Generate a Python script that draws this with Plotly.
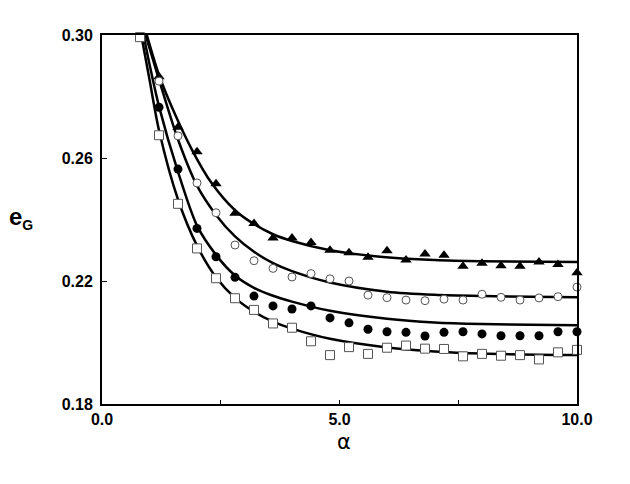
#!/usr/bin/python3
# -*- coding: utf-8 -*-

import plotly.graph_objects as go

# measured points (alpha, e_G)
alpha = [1.2, 1.6, 2.0, 2.4, 2.8, 3.2, 3.6, 4.0, 4.4, 4.8, 5.2, 5.6,
         6.0, 6.4, 6.8, 7.2, 7.6, 8.0, 8.4, 8.8, 9.2, 9.6, 10.0]
alpha_sq = [0.8] + alpha

tri = [0.2864, 0.2700, 0.2620, 0.2516, 0.2420, 0.2387, 0.2340, 0.2340,
       0.2325, 0.2300, 0.2292, 0.2277, 0.2298, 0.2268, 0.2288, 0.2284,
       0.2248, 0.2258, 0.2250, 0.2248, 0.2262, 0.2254, 0.2227]
circ_open = [0.2850, 0.2672, 0.2519, 0.2422, 0.2317, 0.2266, 0.2241, 0.2213,
             0.2224, 0.2207, 0.2200, 0.2154, 0.2146, 0.2138, 0.2136, 0.2141,
             0.2138, 0.2157, 0.2147, 0.2138, 0.2145, 0.2149, 0.2180]
circ_fill = [0.2765, 0.2564, 0.2371, 0.2279, 0.2212, 0.2151, 0.2119, 0.2109,
             0.2119, 0.2080, 0.2064, 0.2043, 0.2035, 0.2033, 0.2021, 0.2033,
             0.2035, 0.2028, 0.2022, 0.2022, 0.2022, 0.2035, 0.2035]
square = [0.2993, 0.2674, 0.2451, 0.2306, 0.2209, 0.2144, 0.2106, 0.2062,
          0.2048, 0.2004, 0.1959, 0.1985, 0.1963, 0.1983, 0.1990, 0.1980,
          0.1979, 0.1955, 0.1963, 0.1957, 0.1959, 0.1945, 0.1968, 0.1976]

# fitted curves
tri_fit_x = [0.944, 1.2, 1.5, 1.9, 2.3, 2.8, 3.2, 3.6, 4.0, 4.8, 5.8, 7.0, 8.0, 10.0]
tri_fit_y = [0.300, 0.2870, 0.2755, 0.2625, 0.2520, 0.2430, 0.2385, 0.2352,
             0.2330, 0.2300, 0.2280, 0.2268, 0.2264, 0.2262]
circ_fit_x = [0.917, 1.2, 1.6, 2.0, 2.4, 2.8, 3.2, 3.6, 4.0, 4.8, 6.0, 7.0, 8.0, 10.0]
circ_fit_y = [0.300, 0.2855, 0.2660, 0.2510, 0.2415, 0.2345, 0.2295, 0.2258,
              0.2232, 0.2195, 0.2165, 0.2155, 0.2151, 0.2147]
fill_fit_x = [0.875, 1.0, 1.2, 1.6, 2.0, 2.4, 2.8, 3.2, 3.6, 4.0, 4.8, 6.0, 7.0, 8.0, 10.0]
fill_fit_y = [0.300, 0.2905, 0.2768, 0.2555, 0.2380, 0.2285, 0.2218, 0.2178,
              0.2152, 0.2133, 0.2103, 0.2077, 0.2065, 0.2060, 0.2056]
sq_fit_x = [0.826, 1.0, 1.2, 1.6, 2.0, 2.4, 2.8, 3.2, 3.6, 4.0, 4.8, 6.0, 7.0, 8.0, 10.0]
sq_fit_y = [0.300, 0.2855, 0.2690, 0.2465, 0.2315, 0.2212, 0.2145, 0.2100,
            0.2068, 0.2045, 0.2012, 0.1984, 0.1971, 0.1964, 0.1959]

x_ticks = [0, 5, 10]
x_labels = ["0.0", "5.0", "10.0"]
x_minor = [2.5, 7.5]
y_ticks = [0.18, 0.22, 0.26, 0.30]
y_labels = ["0.18", "0.22", "0.26", "0.30"]


def plot():
    fig = go.Figure()

    # curves
    for cx, cy in [(tri_fit_x, tri_fit_y), (circ_fit_x, circ_fit_y),
                   (fill_fit_x, fill_fit_y), (sq_fit_x, sq_fit_y)]:
        fig.add_trace(go.Scatter(
            x=cx, y=cy, mode="lines", line_shape="spline",
            line=dict(color="black", width=2.5, smoothing=0.8),
        ))

    # markers
    fig.add_trace(go.Scatter(
        x=alpha, y=tri, mode="markers", cliponaxis=False,
        marker=dict(symbol="triangle-up", size=10, color="black"),
    ))
    fig.add_trace(go.Scatter(
        x=alpha, y=circ_open, mode="markers", cliponaxis=False,
        marker=dict(symbol="circle", size=8, color="white",
                    line=dict(color="#555555", width=1)),
    ))
    fig.add_trace(go.Scatter(
        x=alpha, y=circ_fill, mode="markers", cliponaxis=False,
        marker=dict(symbol="circle", size=9, color="black"),
    ))
    fig.add_trace(go.Scatter(
        x=alpha_sq, y=square, mode="markers", cliponaxis=False,
        marker=dict(symbol="square", size=9, color="white",
                    line=dict(color="#555555", width=1)),
    ))

    tick_font = dict(family="Liberation Sans", size=16, color="black", weight="bold")
    # page body has an 8px margin, so the figure is a bit smaller than the window
    fig.update_layout(
        width=622, height=476,
        showlegend=False,
        plot_bgcolor="white",
        paper_bgcolor="white",
        margin=dict(l=94, r=53, t=27, b=80),
        xaxis=dict(
            range=[0, 10], tickvals=x_ticks, ticktext=x_labels,
            ticks="inside", ticklen=4, tickwidth=1, tickcolor="black",
            minor=dict(tickvals=x_minor, ticks="inside", ticklen=4,
                       tickwidth=1, tickcolor="black", showgrid=False),
            showline=True, mirror=True, linewidth=2, linecolor="black",
            showgrid=False, zeroline=False, tickfont=tick_font,
        ),
        yaxis=dict(
            range=[0.18, 0.30], tickvals=y_ticks, ticktext=y_labels,
            ticks="inside", ticklen=5, tickwidth=1, tickcolor="black",
            showline=True, mirror=True, linewidth=2, linecolor="black",
            showgrid=False, zeroline=False, tickfont=tick_font,
            ticklabelstandoff=4,
        ),
        annotations=[
            dict(x=-0.170, y=0.504, xref="paper", yref="paper", showarrow=False,
                 xanchor="center", yanchor="middle",
                 text="e<sub><span style='font-size:14px'>G</span></sub>",
                 font=dict(family="Liberation Sans", size=24, color="black",
                           weight="bold")),
            dict(x=0.51, y=-0.103, xref="paper", yref="paper", showarrow=False,
                 xanchor="center", yanchor="middle",
                 text="α",
                 font=dict(family="DejaVu Sans", size=21, color="black")),
        ],
    )

    fig.write_html("out.html")


if __name__ == '__main__':
    plot()
